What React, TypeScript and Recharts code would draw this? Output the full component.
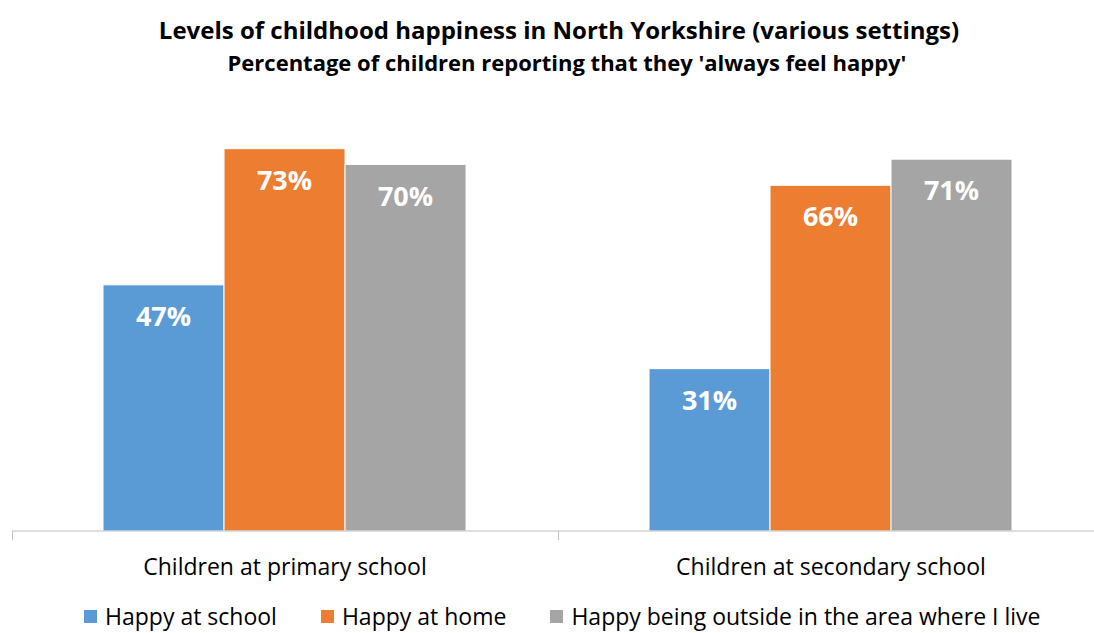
import { BarChart, Bar, XAxis, YAxis, LabelList } from "recharts";

const categories = ["Children at primary school", "Children at secondary school"];
const happyAtSchool = [47, 31];
const happyAtHome = [73, 66];
const happyOutside = [70, 71];

const seriesNames = [
  "Happy at school",
  "Happy at home",
  "Happy being outside in the area where I live",
];
const seriesColors = ["#5B9BD5", "#ED7D31", "#A5A5A5"];
const seriesKeys = ["school", "home", "outside"];

const data = categories.map((c, i) => ({
  name: c,
  school: happyAtSchool[i],
  home: happyAtHome[i],
  outside: happyOutside[i],
}));

const FONT = "'Open Sans', 'Noto Sans', sans-serif";

function LegendRow() {
  return (
    <div
      style={{
        position: "absolute",
        left: 84,
        top: 601,
        display: "flex",
        gap: 44,
        fontFamily: FONT,
        fontSize: 23,
        lineHeight: "30px",
        color: "#000",
        whiteSpace: "nowrap",
      }}
    >
      {seriesNames.map((n, i) => (
        <div key={n} style={{ display: "flex", alignItems: "center", gap: 8 }}>
          <span style={{ width: 13, height: 13, background: seriesColors[i], display: "inline-block" }} />
          <span>{n}</span>
        </div>
      ))}
    </div>
  );
}

export default function App() {
  return (
    <div style={{ position: "absolute", left: 0, top: 0, width: 1094, height: 633, background: "#fff", overflow: "hidden" }}>
      <div style={{ position: "absolute", left: 0, top: 13, width: 1118, textAlign: "center", fontFamily: FONT, fontWeight: 700, fontSize: 24, color: "#000" }}>
        Levels of childhood happiness in North Yorkshire (various settings)
      </div>
      <div style={{ position: "absolute", left: 0, top: 47, width: 1134, textAlign: "center", fontFamily: FONT, fontWeight: 700, fontSize: 22, color: "#000" }}>
        Percentage of children reporting that they 'always feel happy'
      </div>
      <BarChart
        width={1094}
        height={633}
        data={data}
        margin={{ top: 112, right: -10, bottom: 72, left: 12 }}
        barCategoryGap="16.67%"
        barGap={0}
      >
        <XAxis
          dataKey="name"
          axisLine={{ stroke: "#BFBFBF" }}
          tickLine={false}
          tick={{ fill: "#000", fontSize: 23, fontFamily: FONT, dy: 20 }}
          interval={0}
        />
        <YAxis hide domain={[0, 80]} />
        {seriesKeys.map((k, i) => (
          <Bar key={k} dataKey={k} fill={seriesColors[i]} stroke="#fff" strokeWidth={1} isAnimationActive={false}>
            <LabelList
              dataKey={k}
              position="insideTop"
              offset={22}
              formatter={(v: any) => `${v}%`}
              style={{ fill: "#fff", fontSize: 27, fontWeight: 700, fontFamily: FONT }}
            />
          </Bar>
        ))}
      </BarChart>
      <svg style={{ position: "absolute", left: 0, top: 0, pointerEvents: "none" }} width={1094} height={633}>
        {[12, 558].map((x) => (
          <line key={x} x1={x + 0.5} x2={x + 0.5} y1={531} y2={540} stroke="#BFBFBF" />
        ))}
      </svg>
      <LegendRow />
    </div>
  );
}
